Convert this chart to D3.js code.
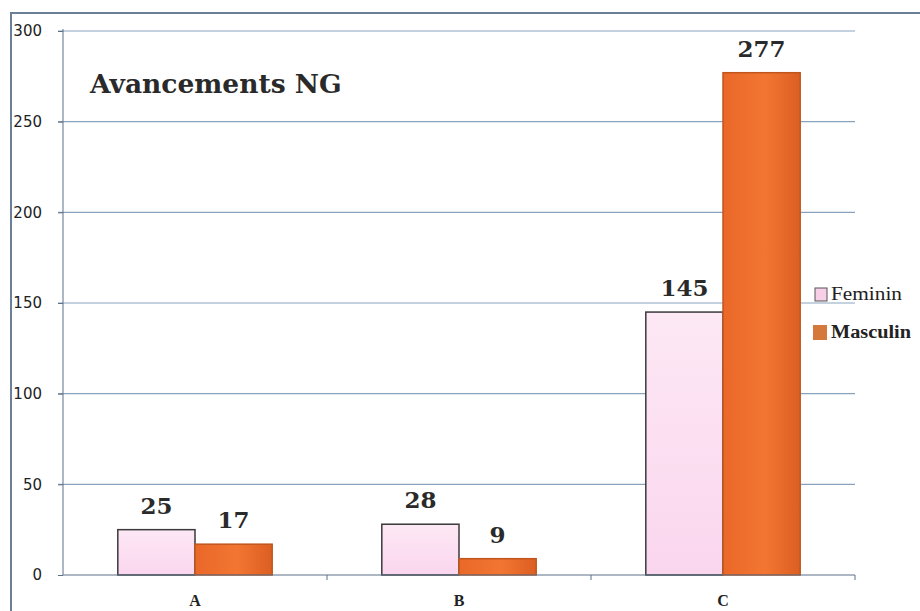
<!DOCTYPE html>
<html lang="fr">
<head>
<meta charset="utf-8">
<title>Avancements NG</title>
<script src="https://cdn.jsdelivr.net/npm/d3@7/dist/d3.min.js"></script>
<style>
  body { margin: 0; background: #fff; }
  .axis text { font-family: "DejaVu Sans", sans-serif; font-size: 15px; fill: #222; }
  .xaxis text { font-family: "Liberation Serif", serif; font-weight: bold; font-size: 16px; fill: #222; }
</style>
</head>
<body>
<script>
var categories = ["A", "B", "C"];
var series = ["Feminin", "Masculin"];
var feminin = [25, 28, 145];
var masculin = [17, 9, 277];
var yTicks = [0, 50, 100, 150, 200, 250, 300];

var w = 920, h = 611;
var pLeft = 63, pRight = 855, pTop = 31, pBottom = 575;

var svg = d3.select("body").append("svg")
    .attr("width", w)
    .attr("height", h);

var defs = svg.append("defs");
var og = defs.append("linearGradient").attr("id", "orange").attr("x1", 0).attr("x2", 1).attr("y1", 0).attr("y2", 0);
og.append("stop").attr("offset", "0%").attr("stop-color", "#ea6828");
og.append("stop").attr("offset", "55%").attr("stop-color", "#f27632");
og.append("stop").attr("offset", "100%").attr("stop-color", "#dc5e22");
var pg = defs.append("linearGradient").attr("id", "pink").attr("x1", 0).attr("x2", 0).attr("y1", 0).attr("y2", 1);
pg.append("stop").attr("offset", "0%").attr("stop-color", "#fde8f5");
pg.append("stop").attr("offset", "100%").attr("stop-color", "#fad6ee");

// outer frame
svg.append("path")
    .attr("d", "M11," + h + "V13H" + w)
    .attr("fill", "none")
    .attr("stroke", "#6b7f95")
    .attr("stroke-width", 2);

var x0 = d3.scaleBand().domain(categories).range([pLeft, pRight]);
var x1 = d3.scaleBand().domain(series).range([0, x0.bandwidth()]).paddingInner(0).paddingOuter(0.71);
var y = d3.scaleLinear().domain([0, 300]).range([pBottom, pTop]);

// gridlines
svg.append("g").selectAll("line")
    .data(yTicks.slice(1))
    .enter().append("line")
    .attr("x1", pLeft - 5).attr("x2", pRight)
    .attr("y1", function(d) { return y(d); })
    .attr("y2", function(d) { return y(d); })
    .attr("stroke", "#8aa3bd")
    .attr("stroke-width", 1.2);

var rows = categories.map(function(c, i) {
    return { cat: c, values: [{ s: "Feminin", v: feminin[i] }, { s: "Masculin", v: masculin[i] }] };
});

var groups = svg.append("g").selectAll("g")
    .data(rows)
    .enter().append("g")
    .attr("transform", function(d) { return "translate(" + x0(d.cat) + ",0)"; });

groups.selectAll("rect")
    .data(function(d) { return d.values; })
    .enter().append("rect")
    .attr("x", function(d) { return x1(d.s); })
    .attr("y", function(d) { return y(d.v); })
    .attr("width", x1.bandwidth())
    .attr("height", function(d) { return pBottom - y(d.v); })
    .attr("fill", function(d) { return d.s == "Feminin" ? "url(#pink)" : "url(#orange)"; })
    .attr("stroke", function(d) { return d.s == "Feminin" ? "#3a3a3a" : "#c0561e"; })
    .attr("stroke-width", 1.5);

groups.selectAll("text")
    .data(function(d) { return d.values; })
    .enter().append("text")
    .attr("x", function(d) { return x1(d.s) + x1.bandwidth() / 2; })
    .attr("y", function(d) { return y(d.v) - 16; })
    .attr("text-anchor", "middle")
    .style("font-family", "'DejaVu Serif', serif")
    .style("font-weight", "bold")
    .style("font-size", "23px")
    .style("fill", "#2a2a2a")
    .text(function(d) { return d.v; });

// y axis
var yAxis = d3.axisLeft(y).tickValues(yTicks).tickSize(5).tickPadding(16);
var ya = svg.append("g")
    .attr("class", "axis")
    .attr("transform", "translate(" + pLeft + ",0)")
    .call(yAxis);
ya.selectAll("line, path").attr("stroke", "#5d7088");
ya.select(".domain").attr("d", "M0," + pBottom + "V" + (pTop - 2));

// x axis
var xAxis = d3.axisBottom(x0).tickSize(0).tickPadding(20);
var xa = svg.append("g")
    .attr("class", "xaxis")
    .attr("transform", "translate(0," + pBottom + ")")
    .call(xAxis);
xa.select(".domain").attr("stroke", "#5d7088").attr("d", "M" + pLeft + ",0H" + pRight);
xa.append("g").selectAll("line")
    .data(categories.slice(1).concat(["end"]))
    .enter().append("line")
    .attr("x1", function(d) { return d == "end" ? pRight : x0(d); })
    .attr("x2", function(d) { return d == "end" ? pRight : x0(d); })
    .attr("y1", 0).attr("y2", 5)
    .attr("stroke", "#5d7088");

// title
svg.append("text")
    .attr("x", 90)
    .attr("y", 93)
    .style("font-family", "'DejaVu Serif', serif")
    .style("font-weight", "bold")
    .style("font-size", "26.5px")
    .style("fill", "#2a2a2a")
    .text("Avancements NG");

// legend
var legendColors = ["#f7cfe6", "#d4783c"];
var legendLen = [71, 80];
var legend = svg.append("g").selectAll("g")
    .data(series)
    .enter().append("g")
    .attr("transform", function(d, i) { return "translate(815," + (288 + i * 37) + ")"; });
legend.append("rect")
    .attr("x", function(d, i) { return i == 0 ? 0 : -2; })
    .attr("width", function(d, i) { return i == 0 ? 12 : 14; })
    .attr("height", function(d, i) { return i == 0 ? 13 : 15; })
    .attr("fill", function(d, i) { return legendColors[i]; })
    .attr("stroke", function(d, i) { return i == 0 ? "#555" : "none"; });
legend.append("text")
    .attr("x", 16).attr("y", function(d, i) { return i == 0 ? 12 : 13; })
    .attr("textLength", function(d, i) { return legendLen[i]; })
    .attr("lengthAdjust", "spacingAndGlyphs")
    .style("font-family", "'Liberation Serif', serif")
    .style("font-size", "18px")
    .style("font-weight", function(d, i) { return i == 0 ? "normal" : "bold"; })
    .style("fill", "#222")
    .text(function(d) { return d; });
</script>
</body>
</html>
